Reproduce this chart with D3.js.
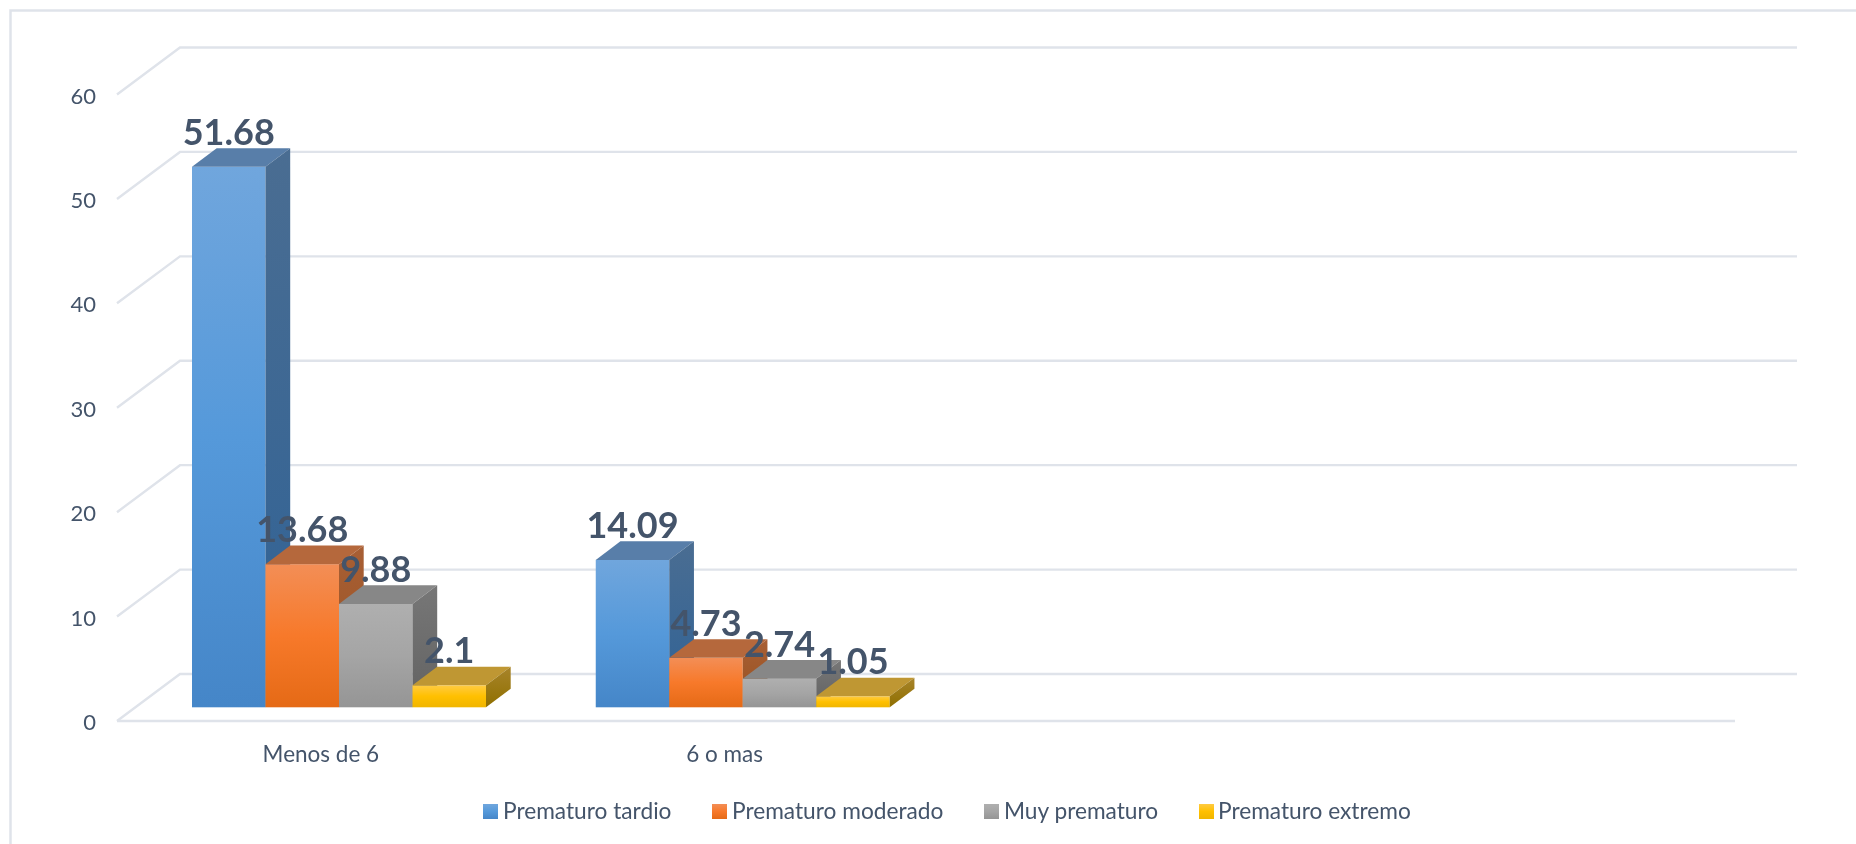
<!DOCTYPE html>
<html><head><meta charset="utf-8">
<script src="https://cdnjs.cloudflare.com/ajax/libs/d3/7.8.5/d3.min.js"></script>
<style>html,body{margin:0;padding:0;background:#fff;overflow:hidden}svg{display:block;filter:blur(0.4px)}text{font-family:Lato,"Open Sans",sans-serif}</style>
</head><body><svg id="c" width="1856" height="844"></svg>
<script>
const categories = ["Menos de 6", "6 o mas"];
const emptySlots = [" ", "  "];
const seriesNames = ["Prematuro tardio", "Prematuro moderado", "Muy prematuro", "Prematuro extremo"];
const menosDe6 = [51.68, 13.68, 9.88, 2.1];
const seisOMas = [14.09, 4.73, 2.74, 1.05];
const yTicks = [0, 10, 20, 30, 40, 50, 60];
const valueLabels = [["51.68", "13.68", "9.88", "2.1"], ["14.09", "4.73", "2.74", "1.05"]];

const frontStops = [["#70A6DD","#5599DA","#4586C8"],["#F38E56","#F7792A","#E56A16"],["#AFAFAF","#A5A5A5","#959595"],["#FFCB42","#FFC000","#F0B500"]];
const sideStops = [["#4A6D92","#2F6296"],["#A85F35","#97511F"],["#777777","#626262"],["#A8842A","#8F6F00"]];
const topFill = ["#587EA9","#B5683C","#878787","#BF9733"];
const swatchX = [483, 712, 984, 1199];
const legendTextX = [503, 732, 1004, 1218];

const svg = d3.select("#c");
const textColor = "#44546A", gridColor = "#DFE3EA";
const defs = svg.append("defs");
function grad(id, cols){
  const g = defs.append("linearGradient").attr("id", id).attr("x1",0).attr("y1",0).attr("x2",0).attr("y2",1);
  cols.forEach((c,i)=>g.append("stop").attr("offset", i/(cols.length-1)).attr("stop-color", c));
}
frontStops.forEach((c,i)=>grad("f"+i,c));
sideStops.forEach((c,i)=>grad("s"+i,c));

// chart frame
svg.append("path").attr("d","M10.5,860V10.5H1870").attr("fill","none").attr("stroke",gridColor).attr("stroke-width",2.5);

// geometry of the 3D box
const frontBase = 721, backBase = 674, barBase = 707.3;
const wallDX = 63, wallDY = frontBase - backBase;
const depthDX = 24.7, depthDY = 18.6;
const y = d3.scaleLinear().domain([0,60]).range([0,-626.5]);
const x = d3.scaleBand().domain([...categories, ...emptySlots]).range([117,1732]);
const barSpan = 294;
const inner = d3.scaleBand().domain(seriesNames).range([0,barSpan]);
const groupOffset = 75;
const barScale = d3.scaleLinear().domain([0,60]).range([0,627.6]);

// gridlines
const grid = svg.append("g").attr("fill","none").attr("stroke",gridColor).attr("stroke-width",2.4);
yTicks.forEach(t=>{
  const yf = frontBase + y(t), yb = backBase + y(t);
  grid.append("path").attr("d",`M${117},${yf}L${117+wallDX},${yb}H1797`);
});
grid.append("path").attr("d",`M117,${frontBase}H1735`);

// axes
const yAxis = svg.append("g").attr("transform",`translate(117,${frontBase+1.5})`)
  .call(d3.axisLeft(y).tickValues(yTicks).tickSize(0).tickPadding(21));
yAxis.select(".domain").remove();
yAxis.selectAll("text").attr("fill",textColor).attr("font-size",22).style("font-family","Lato");
const xAxis = svg.append("g").attr("transform",`translate(2,${frontBase})`)
  .call(d3.axisBottom(x).tickSize(0).tickPadding(25));
xAxis.select(".domain").remove();
xAxis.selectAll("text").attr("fill",textColor).attr("font-size",22.5).style("font-family","Lato");

// bars
const groups = [menosDe6, seisOMas];
const labelsG = [];
groups.forEach((vals,gi)=>{
  const x0 = x(categories[gi]) + groupOffset;
  const g = svg.append("g");
  vals.forEach((v,i)=>{
    const bx = x0 + inner(seriesNames[i]), w = inner.bandwidth();
    const h = barScale(v), ty = barBase - h;
    g.append("rect").attr("x",bx).attr("y",ty).attr("width",w).attr("height",h).attr("fill",`url(#f${i})`);
    g.append("path").attr("d",`M${bx},${ty}l${depthDX},${-depthDY}h${w}l${-depthDX},${depthDY}z`).attr("fill",topFill[i]);
    g.append("path").attr("d",`M${bx+w},${ty}l${depthDX},${-depthDY}v${h}l${-depthDX},${depthDY}z`).attr("fill",`url(#s${i})`);
    labelsG.push({x:bx+w/2, y:ty-22, t:valueLabels[gi][i]});
  });
});
svg.append("g").selectAll("text").data(labelsG).join("text")
  .attr("x",d=>d.x).attr("y",d=>d.y).attr("text-anchor","middle")
  .attr("font-size",36).attr("font-weight",700).attr("fill",textColor).text(d=>d.t);

// legend
const lg = svg.append("g");
seriesNames.forEach((n,i)=>{
  lg.append("rect").attr("x",swatchX[i]).attr("y",804).attr("width",15).attr("height",15).attr("fill",`url(#f${i})`);
  lg.append("text").attr("x",legendTextX[i]).attr("y",819).attr("font-size",22.7).attr("fill",textColor).text(n);
});
</script></body></html>
